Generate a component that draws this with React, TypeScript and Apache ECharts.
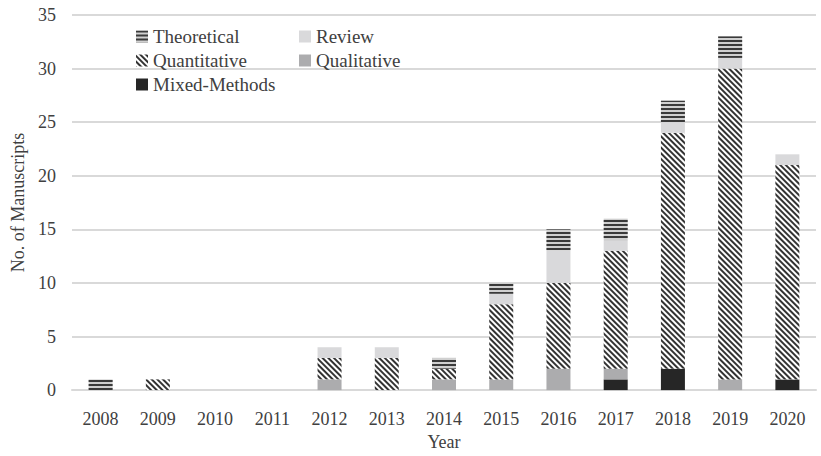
import React, { useEffect, useRef } from "react";
import * as echarts from "echarts";

const years = ["2008", "2009", "2010", "2011", "2012", "2013", "2014", "2015", "2016", "2017", "2018", "2019", "2020"];
const mixedMethods = [0, 0, 0, 0, 0, 0, 0, 0, 0, 1, 2, 0, 1];
const qualitative = [0, 0, 0, 0, 1, 0, 1, 1, 2, 1, 0, 1, 0];
const quantitative = [0, 1, 0, 0, 2, 3, 1, 7, 8, 11, 22, 29, 20];
const review = [0, 0, 0, 0, 1, 1, 0, 1, 3, 1, 1, 1, 1];
const theoretical = [1, 0, 0, 0, 0, 0, 1, 1, 2, 2, 2, 2, 0];
const yTicks = [0, 5, 10, 15, 20, 25, 30, 35];

const FONT = '"Liberation Serif", "Times New Roman", serif';
const TEXT = "#404040";

export default function App() {
  const ref = useRef<HTMLDivElement>(null);
  useEffect(() => {
    document.body.style.margin = "0";
    const chart = echarts.init(ref.current!, null, { renderer: "svg" });
    const barW = 24;
    const mk = (name: string, data: number[], itemStyle: any) => ({
      name,
      type: "bar",
      stack: "total",
      barWidth: barW,
      data,
      itemStyle,
      emphasis: { disabled: true },
    });
    const legendBase = {
      orient: "vertical",
      top: 27,
      padding: 0,
      itemWidth: 12,
      itemHeight: 12,
      itemGap: 5,
      icon: "rect",
      textStyle: { fontFamily: FONT, fontSize: 19, color: TEXT },
      selectedMode: false,
    };
    chart.setOption({
      animation: false,
      backgroundColor: "#ffffff",
      textStyle: { fontFamily: FONT, color: TEXT },
      grid: { left: 72, right: 5, top: 15, bottom: 63, containLabel: false },
      legend: [
        { ...legendBase, data: ["Theoretical", "Quantitative", "Mixed-Methods"], left: 136 },
        { ...legendBase, data: ["Review", "Qualitative"], left: 299 },
      ],
      xAxis: {
        type: "category",
        data: years,
        name: "Year",
        nameLocation: "middle",
        nameGap: 42,
        nameTextStyle: { fontFamily: FONT, fontSize: 18, color: TEXT },
        axisLine: { show: true, lineStyle: { color: "#d9d9d9", width: 2 } },
        axisTick: { show: false },
        axisLabel: { fontFamily: FONT, fontSize: 18, color: TEXT, margin: 20, interval: 0 },
      },
      yAxis: {
        type: "value",
        min: yTicks[0],
        max: yTicks[yTicks.length - 1],
        interval: 5,
        name: "No. of Manuscripts",
        nameLocation: "middle",
        nameGap: 40,
        nameTextStyle: { fontFamily: FONT, fontSize: 18, color: TEXT },
        axisLine: { show: false },
        axisTick: { show: false },
        axisLabel: { fontFamily: FONT, fontSize: 18, color: TEXT, margin: 16 },
        splitLine: { lineStyle: { color: "#d9d9d9", width: 2 } },
      },
      series: [
        mk("Mixed-Methods", mixedMethods, { color: "#262626" }),
        mk("Qualitative", qualitative, { color: "#acacae" }),
        mk("Quantitative", quantitative, {
          color: "#ffffff",
          decal: {
            symbol: "rect",
            symbolSize: 1,
            color: "#333333",
            dashArrayX: [1, 0],
            dashArrayY: [1.6, 1.4],
            rotation: Math.PI / 4,
          },
        }),
        mk("Review", review, { color: "#d9d9db" }),
        mk("Theoretical", theoretical, {
          color: "#d0d0d0",
          decal: {
            symbol: "rect",
            symbolSize: 1,
            color: "#3a3a3a",
            dashArrayX: [1, 0],
            dashArrayY: [1.6, 1.8],
            rotation: 0,
          },
        }),
      ],
    });
    return () => chart.dispose();
  }, []);
  return <div ref={ref} style={{ width: 821, height: 456 }} />;
}
